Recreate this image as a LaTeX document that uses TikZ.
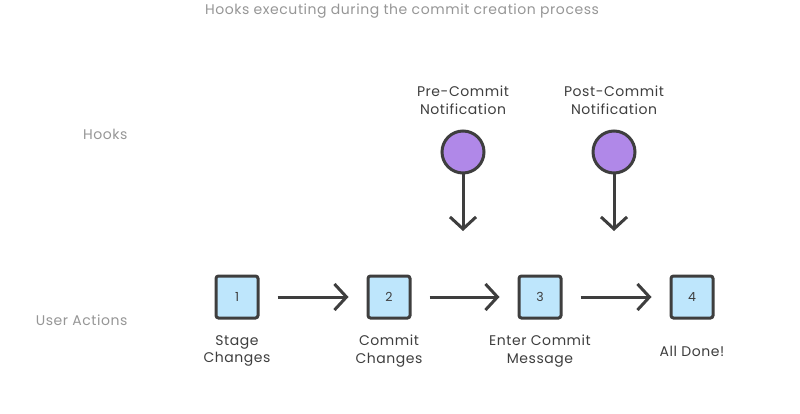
\documentclass[tikz,border=0pt]{standalone}
\usepackage{fontspec}
\setmainfont[LetterSpace=4]{Poppins}
\usetikzlibrary{arrows.meta}
\definecolor{ink}{RGB}{62,62,62}
\definecolor{faint}{RGB}{150,150,150}
\definecolor{stepblue}{RGB}{190,230,252}
\definecolor{hookpurple}{RGB}{176,136,232}

\begin{document}
\begin{tikzpicture}[x=1pt,y=-1pt,
  action/.style={draw=ink,fill=stepblue,line width=3pt,rounded corners=2.5pt,minimum size=42pt,inner sep=0pt,text=ink,font=\fontsize{12.5}{14}\selectfont},
  hook/.style={circle,draw=ink,fill=hookpurple,line width=3pt,minimum size=42pt},
  caption/.style={align=center,text=ink,font=\fontsize{14}{17.5}\selectfont},
  lane/.style={anchor=east,text=faint,font=\fontsize{14}{16}\selectfont},
  flow/.style={draw=ink,line width=3pt,-{Straight Barb[length=12pt,width=26pt]}}]
\useasboundingbox (0,0) rectangle (800,414);

\node[text=faint,font=\fontsize{14}{16}\selectfont] (title) at (402,11) {Hooks executing during the commit creation process};

\node[lane] (hooks) at (131,134) {Hooks};
\node[lane] (users) at (131,320) {User Actions};

% user actions
\node[action] (s1) at (237,297) {1};
\node[action] (s2) at (389,297) {2};
\node[action] (s3) at (540,297) {3};
\node[action] (s4) at (692,297) {4};

\node[caption] (c1) at (237,351) {Stage\\Changes};
\node[caption] (c2) at (389,351) {Commit\\Changes};
\node[caption] (c3) at (540,351) {Enter Commit\\Message};
\node[caption] (c4) at (692,351) {All Done!};

\draw[flow,shorten <=18pt,shorten >=18pt] (s1) -- (s2);
\draw[flow,shorten <=18pt,shorten >=18pt] (s2) -- (s3);
\draw[flow,shorten <=18pt,shorten >=18pt] (s3) -- (s4);

% hooks
\node[hook] (pre) at (463,152) {};
\node[hook] (post) at (614,152) {};
\node[caption] (prelbl) at (463,100) {Pre-Commit\\Notification};
\node[caption] (postlbl) at (614,100) {Post-Commit\\Notification};

\coordinate (preend) at (463,231);
\coordinate (postend) at (614,231);
\draw[flow] (pre) -- (preend);
\draw[flow] (post) -- (postend);
\end{tikzpicture}
\end{document}
